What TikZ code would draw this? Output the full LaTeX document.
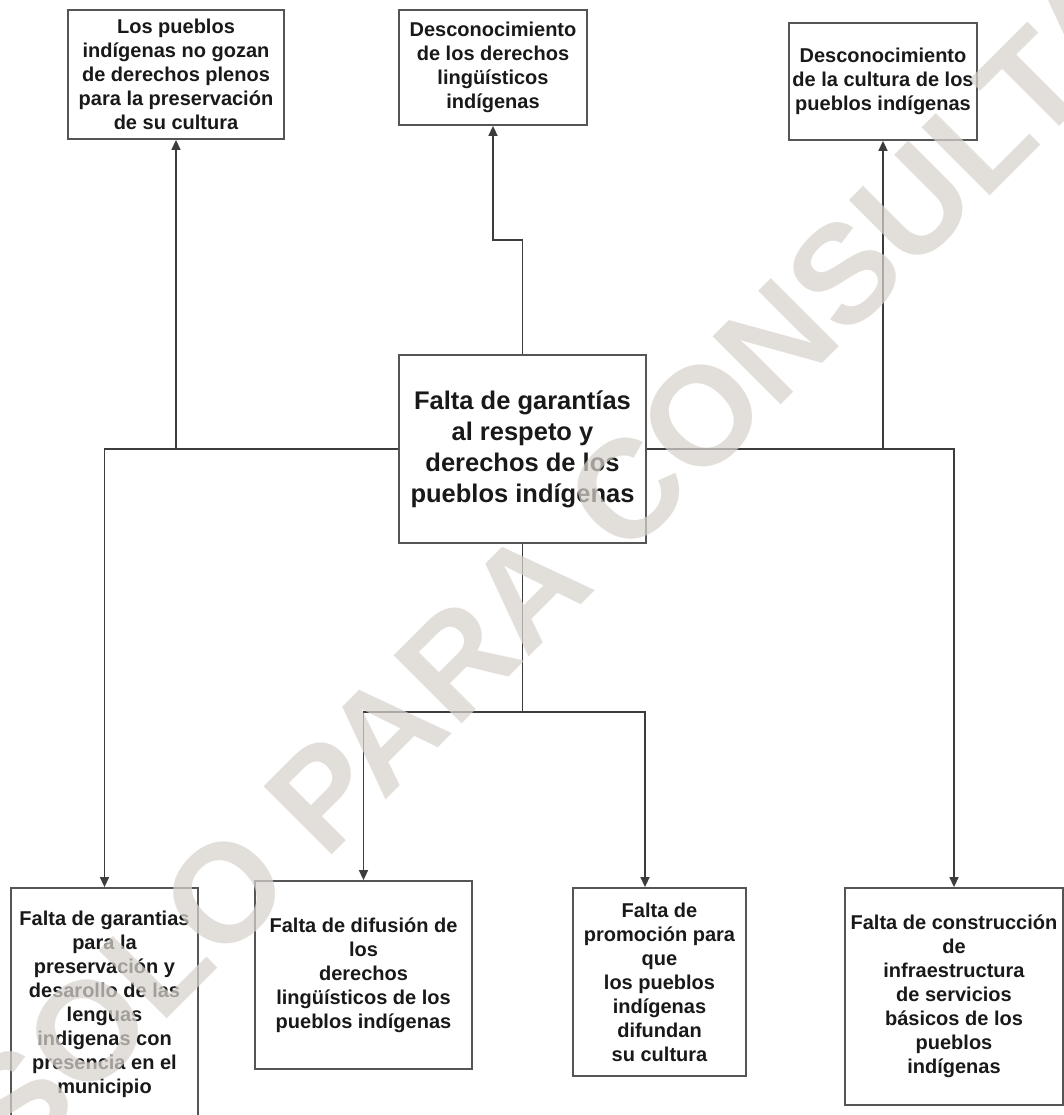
\documentclass[tikz,border=0pt]{standalone}
\usepackage{fontspec}
\setmainfont{Liberation Sans}
\usetikzlibrary{arrows.meta,calc}
\definecolor{boxgray}{RGB}{85,85,85}
\definecolor{linegray}{RGB}{60,60,60}
\definecolor{txt}{RGB}{25,25,25}
\definecolor{wmark}{RGB}{216,211,206}
\begin{document}
\begin{tikzpicture}[x=1pt,y=-1pt,
  box/.style={draw=boxgray, line width=1.8pt, fill=white, inner sep=0pt, align=center,
    font=\bfseries\fontsize{20}{24}\selectfont, text=txt},
  bigbox/.style={box, font=\bfseries\fontsize{25.5}{31}\selectfont},
  conn/.style={draw=linegray, line width=1.5pt, -{Triangle[width=9pt,length=10pt]}},
  wmstyle/.style={text=wmark, text opacity=0.72, inner sep=0pt,
    font=\bfseries\fontsize{140}{140}\selectfont}]
\useasboundingbox (0,0) rectangle (1064,1115);
\fill[white] (0,0) rectangle (1064,1115);
\clip (0,0) rectangle (1064,1115);

% top boxes
\node[box, minimum width=216pt, minimum height=129pt] (T1) at (176,74.5)
  {Los pueblos\\indígenas no gozan\\de derechos plenos\\para la preservación\\de su cultura};
\node[box, minimum width=188pt, minimum height=115pt] (T2) at (493,67.5)
  {Desconocimiento\\de los derechos\\lingüísticos\\indígenas};
\node[box, minimum width=188pt, minimum height=117pt] (T3) at (883,81.5)
  {Desconocimiento\\de la cultura de los\\pueblos indígenas};

% central box
\node[bigbox, minimum width=247pt, minimum height=188pt] (C) at (522.5,449)
  {Falta de garantías\\al respeto y\\derechos de los\\pueblos indígenas};

% bottom boxes
\node[box, minimum width=187pt, minimum height=232pt] (B1) at (104.5,1004)
  {Falta de garantias\\para la\\preservación y\\desarollo de las\\lenguas\\indigenas con\\presencia en el\\municipio};
\node[box, minimum width=217pt, minimum height=188pt] (B2) at (363.5,975)
  {Falta de difusión de\\los\\derechos\\lingüísticos de los\\pueblos indígenas};
\node[box, minimum width=173pt, minimum height=188pt] (B3) at (659.5,982)
  {Falta de\\promoción para\\que\\los pueblos\\indígenas\\difundan\\su cultura};
\node[box, minimum width=218pt, minimum height=217pt] (B4) at (954,996.5)
  {Falta de construcción\\de\\infraestructura\\de servicios\\básicos de los\\pueblos\\indígenas};

% connectors
\coordinate (jt) at (522.5,240);
\coordinate (jb) at (522.5,712);
\draw[conn] (C.west) -| (T1.south);
\draw[conn] (C.west) -| (B1.north);
\draw[conn] (C.east) -| (T3.south);
\draw[conn] (C.east) -| (B4.north);
\draw[conn] (C.north) -- (jt) -| (T2.south);
\draw[conn] (C.south) -- (jb) -| (B2.north);
\draw[conn] (jb) -| ([xshift=-14.5pt]B3.north);

% watermark
\node[wmstyle, rotate=45] (wm) at (555,563) {SOLO PARA CONSULTA};
\end{tikzpicture}
\end{document}
